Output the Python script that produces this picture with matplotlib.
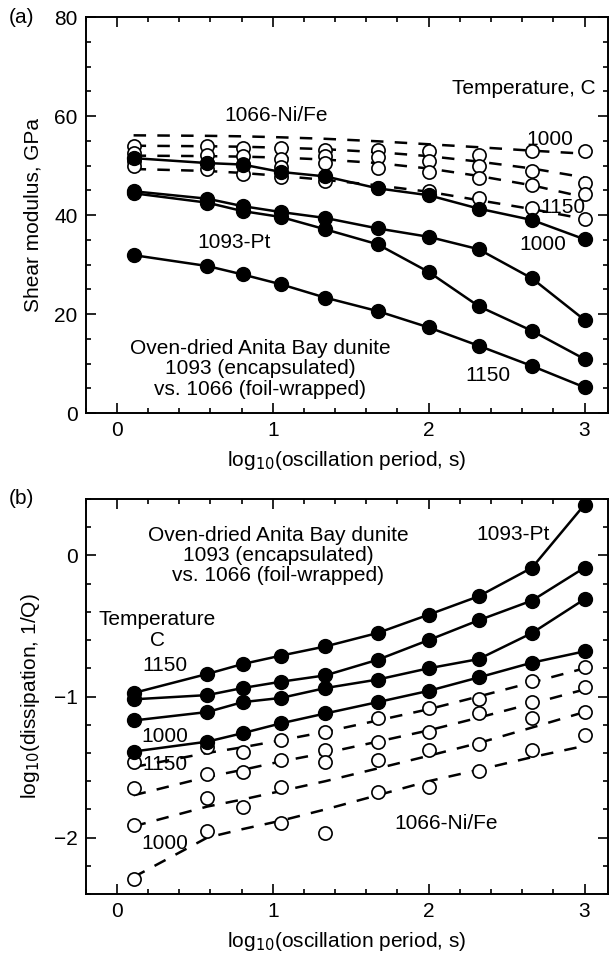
import numpy as np
import matplotlib.pyplot as plt
from matplotlib.ticker import MultipleLocator

plt.rcParams['font.family'] = ['Liberation Sans', 'DejaVu Sans']
plt.rcParams['font.size'] = 15

# log10 of oscillation period (s)
log_period = [0.107, 0.58, 0.806, 1.053, 1.338, 1.672, 2.0, 2.32, 2.663, 3.0]

# (a) shear modulus, GPa -- 1093-Pt (filled), temperatures 1000..1150 C
g_1093_1000 = [51.5, 50.5, 50.2, 48.7, 47.8, 45.4, 44.0, 41.3, 39.0, 35.1]
g_1093_1050 = [44.8, 43.3, 41.8, 40.6, 39.4, 37.3, 35.6, 33.1, 27.2, 18.8]
g_1093_1100 = [44.4, 42.5, 40.8, 39.6, 37.1, 34.1, 28.5, 21.6, 16.6, 10.9]
g_1093_1150 = [31.9, 29.7, 28.0, 26.0, 23.3, 20.6, 17.3, 13.6, 9.5, 5.2]

# (a) 1066-Ni/Fe (open circles) and their dashed fits
g_1066_1000 = [53.9, 53.9, 53.6, 53.6, 53.2, 53.1, 52.9, 52.2, 52.9, 52.9]
g_1066_1050 = [52.5, 52.2, 51.9, 51.4, 51.9, 51.7, 50.9, 49.9, 48.8, 46.5]
g_1066_1100 = [51.0, 50.6, 50.4, 49.8, 50.5, 49.5, 48.7, 47.5, 46.1, 44.2]
g_1066_1150 = [49.9, 49.2, 48.2, 47.6, 46.8, 45.5, 44.9, 43.5, 41.5, 39.3]
gfit_1066_1000 = [56.1, 56.0, 55.9, 55.7, 55.4, 54.9, 54.3, 53.7, 53.0, 52.4]
gfit_1066_1050 = [54.0, 53.9, 53.8, 53.6, 53.3, 52.7, 51.9, 50.8, 49.4, 47.6]
gfit_1066_1100 = [52.0, 51.9, 51.8, 51.6, 51.2, 50.5, 49.4, 47.9, 46.0, 43.6]
gfit_1066_1150 = [49.3, 48.9, 48.5, 47.9, 47.1, 46.0, 44.7, 43.0, 41.2, 39.2]

# (b) log10(1/Q) -- 1093-Pt (filled)
q_1093_1150 = [-0.975, -0.84, -0.77, -0.71, -0.645, -0.55, -0.42, -0.29, -0.087, 0.36]
q_1093_1100 = [-1.02, -0.99, -0.94, -0.895, -0.85, -0.74, -0.60, -0.46, -0.32, -0.087]
q_1093_1050 = [-1.17, -1.11, -1.04, -1.01, -0.94, -0.88, -0.80, -0.735, -0.55, -0.31]
q_1093_1000 = [-1.39, -1.32, -1.26, -1.19, -1.12, -1.04, -0.96, -0.865, -0.76, -0.68]

# (b) 1066-Ni/Fe (open circles) and dashed fits
q_1066_1150 = [-1.465, -1.36, -1.395, -1.31, -1.25, -1.155, -1.085, -1.02, -0.89, -0.79]
q_1066_1100 = [-1.65, -1.55, -1.535, -1.45, -1.38, -1.325, -1.25, -1.12, -1.04, -0.935]
q_1066_1050 = [-1.91, -1.72, -1.78, -1.64, -1.465, -1.45, -1.38, -1.335, -1.15, -1.11]
q_1066_1000 = [-2.29, -1.95, np.nan, -1.90, -1.97, -1.68, -1.64, -1.525, -1.38, -1.275]
qfit_1066_1150 = [-1.50, -1.40, -1.36, -1.31, -1.25, -1.17, -1.09, -1.00, -0.90, -0.80]
qfit_1066_1100 = [-1.70, -1.57, -1.52, -1.46, -1.40, -1.32, -1.24, -1.15, -1.05, -0.95]
qfit_1066_1050 = [-1.92, -1.78, -1.73, -1.67, -1.60, -1.51, -1.42, -1.33, -1.22, -1.11]
qfit_1066_1000 = [-2.28, -2.00, -1.94, -1.88, -1.80, -1.70, -1.60, -1.52, -1.43, -1.35]

sample_note = 'Oven-dried Anita Bay dunite\n1093 (encapsulated)\nvs. 1066 (foil-wrapped)'


def style_axes(ax):
    for s in ax.spines.values():
        s.set_linewidth(1.4)
    ax.xaxis.set_major_locator(MultipleLocator(1))
    ax.xaxis.set_minor_locator(MultipleLocator(0.2))
    ax.tick_params(which='both', direction='in', top=True, right=True, width=1.2)
    ax.tick_params(which='major', length=7, pad=6)
    ax.tick_params(which='minor', length=3.5)
    ax.set_xlim(-0.2, 3.15)
    ax.set_xlabel('log$_{10}$(oscillation period, s)', labelpad=6)


def draw(ax, filled, opened, fits):
    for y in fits:
        ax.plot(log_period, y, color='black', lw=1.8, dashes=(5, 4.5), zorder=2)
    for y in opened:
        ax.plot(log_period, y, 'o', ms=9.5, mfc='white', mec='black', mew=1.2, ls='none', zorder=3)
    for y in filled:
        ax.plot(log_period, y, '-o', color='black', lw=1.8, ms=10, zorder=4)


fig = plt.figure(figsize=(6.11, 9.57), dpi=100)
ax1 = fig.add_axes([0.1403, 0.5684, 0.8547, 0.4138])
ax2 = fig.add_axes([0.1403, 0.0658, 0.8547, 0.4128])

# panel (a)
draw(ax1,
     [g_1093_1000, g_1093_1050, g_1093_1100, g_1093_1150],
     [g_1066_1000, g_1066_1050, g_1066_1100, g_1066_1150],
     [gfit_1066_1000, gfit_1066_1050, gfit_1066_1100, gfit_1066_1150])
style_axes(ax1)
ax1.set_ylim(0, 80)
ax1.yaxis.set_major_locator(MultipleLocator(20))
ax1.yaxis.set_minor_locator(MultipleLocator(5))
ax1.set_ylabel('Shear modulus, GPa', labelpad=8)

ax1.text(3.07, 65.5, 'Temperature, C', ha='right', va='center')
ax1.text(1.02, 60.2, '1066-Ni/Fe', ha='center', va='center')
ax1.text(2.78, 55.3, '1000', ha='center', va='center')
ax1.text(2.86, 41.5, '1150', ha='center', va='center')
ax1.text(2.73, 34.0, '1000', ha='center', va='center')
ax1.text(0.75, 34.5, '1093-Pt', ha='center', va='center')
ax1.text(0.92, 8.9, sample_note, ha='center', va='center', linespacing=1.07)
ax1.text(2.38, 7.5, '1150', ha='center', va='center')

# panel (b)
draw(ax2,
     [q_1093_1150, q_1093_1100, q_1093_1050, q_1093_1000],
     [q_1066_1150, q_1066_1100, q_1066_1050, q_1066_1000],
     [qfit_1066_1150, qfit_1066_1100, qfit_1066_1050, qfit_1066_1000])
style_axes(ax2)
ax2.set_ylim(-2.4, 0.4)
ax2.yaxis.set_major_locator(MultipleLocator(1))
ax2.yaxis.set_minor_locator(MultipleLocator(0.2))
ax2.set_ylabel('log$_{10}$(dissipation, 1/Q)', labelpad=8)

ax2.text(1.035, 0.0, sample_note, ha='center', va='center', linespacing=1.07)
ax2.text(2.54, 0.15, '1093-Pt', ha='center', va='center')
ax2.text(0.26, -0.53, 'Temperature\nC', ha='center', va='center', linespacing=1.12)
ax2.text(0.31, -0.78, '1150', ha='center', va='center')
ax2.text(0.31, -1.28, '1000', ha='center', va='center')
ax2.text(0.31, -1.48, '1150', ha='center', va='center')
ax2.text(0.31, -2.04, '1000', ha='center', va='center')
ax2.text(2.11, -1.90, '1066-Ni/Fe', ha='center', va='center')

fig.text(0.035, 0.982, '(a)', ha='center', va='center')
fig.text(0.035, 0.479, '(b)', ha='center', va='center')

fig.savefig('out.png', dpi=100)
